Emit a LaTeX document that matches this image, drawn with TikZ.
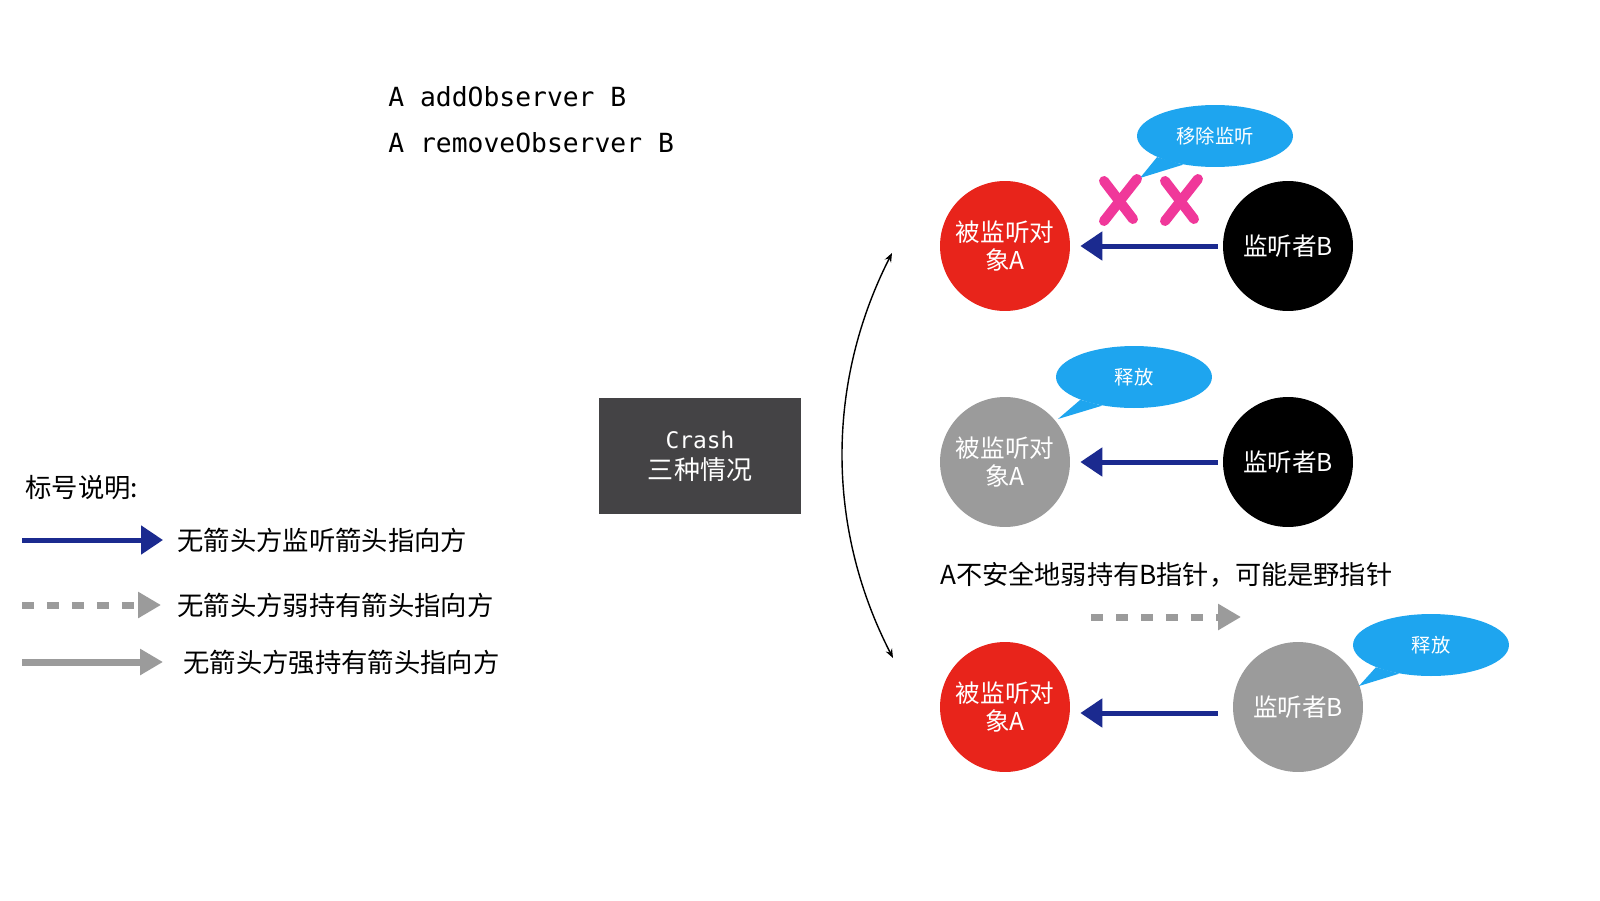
\documentclass[tikz,border=0pt]{standalone}
\usepackage{fontspec}
\setmainfont{Noto Sans CJK SC}
\newfontfamily\codefont{DejaVu Sans Mono}
\usetikzlibrary{arrows.meta,shapes.geometric,positioning,calc}
\definecolor{listenblue}{HTML}{1B2A8F}
\definecolor{holdgray}{HTML}{9B9B9B}
\definecolor{objred}{HTML}{E8241B}
\definecolor{bubbleblue}{HTML}{1EA5EF}
\definecolor{crosspink}{HTML}{F0389A}
\definecolor{boxgray}{HTML}{444345}

\begin{document}
\begin{tikzpicture}[x=0.02cm, y=-0.02cm,
  obj/.style={circle, minimum size=2.6cm, inner sep=0pt, text=white, align=center,
    font=\fontsize{14}{16}\selectfont},
  bubble/.style={ellipse, fill=bubbleblue, minimum width=3.12cm, minimum height=1.24cm,
    inner sep=0pt, text=white, font=\fontsize{11}{13}\selectfont},
  listen/.style={draw=listenblue, line width=0.1cm, -{Triangle[length=0.44cm,width=0.56cm]}},
  weak/.style={draw=holdgray, line width=0.14cm, dash pattern=on 0.24cm off 0.26cm,
    -{Triangle[length=0.46cm,width=0.5cm]}},
  strong/.style={draw=holdgray, line width=0.14cm, -{Triangle[length=0.46cm,width=0.5cm]}},
  cross/.style={draw=crosspink, line width=0.2cm, line cap=round},
  legend/.style={anchor=west, inner sep=0pt, font=\fontsize{15}{18}\selectfont},
]
\fill [white] (0,0) rectangle (1600,900);
\useasboundingbox (0,0) rectangle (1600,900);

%% the two calls
\node [anchor=west, inner sep=0pt, font=\codefont\fontsize{15}{18}\selectfont] (addobs) at (388,97) {A addObserver B};
\node [anchor=west, inner sep=0pt, font=\codefont\fontsize{15}{18}\selectfont] (rmobs) at (388,143) {A removeObserver B};

%% centre box
\node [fill=boxgray, minimum width=4.06cm, minimum height=2.32cm, text=white, align=center,
  font=\fontsize{14.8}{17.6}\selectfont] (crash) at (700,456) {{\codefont\fontsize{13}{17.6}\selectfont Crash}\\三种情况};

\coordinate (arctop) at (892,253);
\coordinate (arcbot) at (893,658);
\draw [line width=0.8pt, {Stealth[length=0.18cm,width=0.14cm]}-{Stealth[length=0.18cm,width=0.14cm]}]
  (arctop) .. controls (826,383) and (826,528) .. (arcbot);

%% case 1: removed
\node [obj, fill=objred] (a1) at (1005,246) {被监听对\\象A};
\node [obj, fill=black] (b1) at (1288,246) {监听者B};
\draw [listen, shorten <=0.1cm, shorten >=0.2cm] (b1) -- (a1);
\node [bubble] (rm) at (1215,136) {移除监听};
\coordinate (rmtip) at (1140,178);
\fill [bubbleblue] (rm.200) -- (rmtip) -- (rm.222) -- cycle;
\foreach \cx in {1120,1181}
{
  \draw [cross] (\cx-16,181) -- (\cx+13,219);
  \draw [cross] (\cx+17,179) -- (\cx-16,221);
}

%% case 2: A released
\node [obj, fill=holdgray] (a2) at (1005,462) {被监听对\\象A};
\node [obj, fill=black] (b2) at (1288,462) {监听者B};
\draw [listen, shorten <=0.1cm, shorten >=0.2cm] (b2) -- (a2);
\node [bubble] (rel2) at (1134,377) {释放};
\coordinate (rel2tip) at (1058,419);
\fill [bubbleblue] (rel2.203) -- (rel2tip) -- (rel2.222) -- cycle;

%% case 3: B released
\node [anchor=west, inner sep=0pt, font=\fontsize{14.9}{17}\selectfont] (unsafe) at (940,575) {A不安全地弱持有B指针，可能是野指针};
\coordinate (wk0) at (1091,617);
\coordinate (wk1) at (1241,617);
\draw [weak] (wk0) -- (wk1);
\node [obj, fill=objred] (a3) at (1005,707) {被监听对\\象A};
\node [obj, fill=holdgray] (b3) at (1298,707) {监听者B};
\draw [listen, shorten <=0.3cm, shorten >=0.2cm] ([yshift=-0.12cm]b3.west) -- ([yshift=-0.12cm]a3.east);
\node [bubble] (rel3) at (1431,645) {释放};
\coordinate (rel3tip) at (1359,686);
\fill [bubbleblue] (rel3.202) -- (rel3tip) -- (rel3.222) -- cycle;

%% legend
\node [legend] (legtitle) at (25,488) {标号说明:};
\node [legend] (leg1) at (177,540) {无箭头方监听箭头指向方};
\node [legend] (leg2) at (177,605) {无箭头方弱持有箭头指向方};
\node [legend] (leg3) at (183,662) {无箭头方强持有箭头指向方};
\coordinate (k1) at (22,540);
\coordinate (k2) at (22,605);
\coordinate (k3) at (22,662);
\draw [listen] (k1) -- ([xshift=-0.28cm]leg1.west);
\draw [weak] (k2) -- ([xshift=-0.32cm]leg2.west);
\draw [strong] (k3) -- ([xshift=-0.4cm]leg3.west);
\end{tikzpicture}
\end{document}
